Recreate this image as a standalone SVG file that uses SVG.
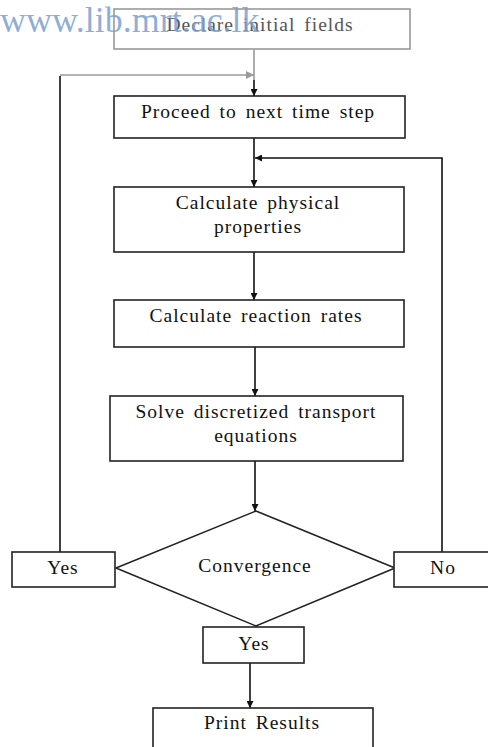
<svg xmlns="http://www.w3.org/2000/svg" width="488" height="747" viewBox="0 0 488 747">
<style>
.box{fill:#fff;stroke:#222;stroke-width:1.6}
.t{font-family:"Liberation Serif","Times New Roman",serif;font-size:19.5px;letter-spacing:1px;word-spacing:3px;fill:#111;text-anchor:middle}
.c{fill:none;stroke:#111;stroke-width:1.6}
.g{fill:none;stroke:#999;stroke-width:1.6}
</style>
<defs>
<marker id="ah" viewBox="0 0 10 10" refX="10" refY="5" markerWidth="7" markerHeight="7" orient="auto" markerUnits="userSpaceOnUse"><path d="M0,0 L10,5 L0,10 z" fill="#111"/></marker>
<marker id="ahg" viewBox="0 0 10 10" refX="10" refY="5" markerWidth="8" markerHeight="8" orient="auto" markerUnits="userSpaceOnUse"><path d="M0,0 L10,5 L0,10 z" fill="#999"/></marker>
</defs>
<rect width="488" height="747" fill="#fff"/>
<g id="connectors">
<line class="g" x1="254" y1="49" x2="254" y2="80"/>
<line class="c" x1="254" y1="80" x2="254" y2="96" marker-end="url(#ah)"/>
<polyline class="g" points="60,75 254,75" marker-end="url(#ahg)"/>
<line class="c" x1="60" y1="76" x2="60" y2="552"/>
<line class="c" x1="254" y1="138" x2="254" y2="187" marker-end="url(#ah)"/>
<polyline class="c" points="442,552 442,158 255,158" marker-end="url(#ah)"/>
<line class="c" x1="254" y1="252" x2="254" y2="300" marker-end="url(#ah)"/>
<line class="c" x1="255" y1="347" x2="255" y2="396" marker-end="url(#ah)"/>
<line class="c" x1="255" y1="461" x2="255" y2="511" marker-end="url(#ah)"/>
<line class="c" x1="250" y1="663" x2="250" y2="708" marker-end="url(#ah)"/>
</g>
<g id="n_declare">
<rect x="114" y="9" width="296" height="40" fill="#fff" stroke="#999" stroke-width="1.6"/>
<text class="t" x="260" y="31" style="fill:#555">Declare  initial  fields</text>
</g>
<text x="0" y="32" font-family="Liberation Serif,Times New Roman,serif" font-size="36" fill="#7b9fd0" fill-opacity="0.85">www.lib.mrt.ac.lk</text>
<g id="n_proceed">
<rect class="box" x="114" y="96" width="291" height="42"/>
<text class="t" x="258" y="118">Proceed  to next  time  step</text>
</g>
<g id="n_physical">
<rect class="box" x="114" y="187" width="290" height="65"/>
<text class="t" x="258" y="209">Calculate  physical</text>
<text class="t" x="258" y="233">properties</text>
</g>
<g id="n_reaction">
<rect class="box" x="114" y="300" width="290" height="47"/>
<text class="t" x="256" y="322">Calculate  reaction  rates</text>
</g>
<g id="n_solve">
<rect class="box" x="110" y="396" width="293" height="65"/>
<text class="t" x="256" y="418">Solve discretized  transport</text>
<text class="t" x="256" y="442">equations</text>
</g>
<g id="n_convergence">
<polygon class="box" points="256,511 395,568 256,626 116,568"/>
<text class="t" x="255" y="572">Convergence</text>
</g>
<g id="n_yes_left">
<rect class="box" x="12" y="552" width="103" height="35"/>
<text class="t" x="63" y="574">Yes</text>
</g>
<g id="n_no">
<rect class="box" x="394" y="552" width="100" height="35"/>
<text class="t" x="443" y="574">No</text>
</g>
<g id="n_yes_bottom">
<rect class="box" x="203" y="627" width="101" height="36"/>
<text class="t" x="254" y="650">Yes</text>
</g>
<g id="n_print">
<rect class="box" x="153" y="708" width="220" height="45"/>
<text class="t" x="262" y="729">Print Results</text>
</g>
</svg>
